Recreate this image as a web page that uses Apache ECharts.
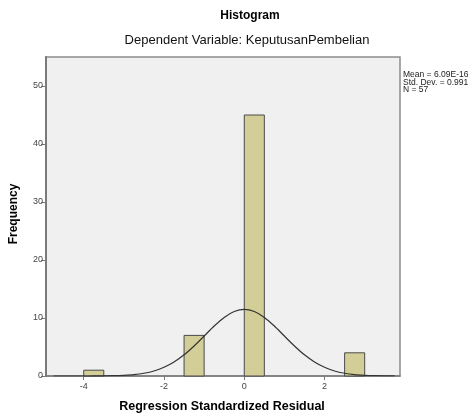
<!DOCTYPE html>
<html>
<head>
<meta charset="utf-8">
<script src="https://cdn.jsdelivr.net/npm/echarts@6/dist/echarts.min.js"></script>
<style>
html,body{margin:0;padding:0;background:#fff;}
#main{width:474px;height:413px;}
</style>
</head>
<body>
<div id="main"></div>
<script>
// ---- data ----
const binStarts = [-4, -1.5, 0, 2.5];
const binWidth = 0.5;
const counts = [1, 7, 45, 4];
const curveX = [-4.75, -4.5, -4.25, -4, -3.75, -3.5, -3.25, -3, -2.75, -2.5, -2.25, -2, -1.75, -1.5, -1.25, -1, -0.75, -0.5, -0.25, 0,
                0.25, 0.5, 0.75, 1, 1.25, 1.5, 1.75, 2, 2.25, 2.5, 2.75, 3, 3.25, 3.5, 3.75];
const curveY = [0, 0, 0, 0, 0.01, 0.02, 0.05, 0.12, 0.24, 0.48, 0.87, 1.50, 2.41, 3.65, 5.18, 6.89, 8.61, 10.10, 11.11, 11.47,
                11.11, 10.10, 8.61, 6.89, 5.18, 3.65, 2.41, 1.50, 0.87, 0.48, 0.24, 0.12, 0.05, 0.02, 0.01];
const xTicks = [-4, -2, 0, 2];
const yTicks = [0, 10, 20, 30, 40, 50];
const titleText = 'Histogram';
const subtitleText = 'Dependent Variable: KeputusanPembelian';
const xTitle = 'Regression Standardized Residual';
const yTitle = 'Frequency';
const statsLines = ['Mean = 6.09E-16', 'Std. Dev. = 0.991', 'N = 57'];

const barData = binStarts.map((s, i) => [s, s + binWidth, counts[i]]);
const lineData = curveX.map((x, i) => [x, curveY[i]]);

const chart = echarts.init(document.getElementById('main'), null, {renderer: 'canvas'});
const font = 'Arial, "Liberation Sans", sans-serif';

chart.setOption({
  animation: false,
  backgroundColor: '#ffffff',
  grid: {
    left: 46, top: 57, right: 74, bottom: 37,
    show: true, backgroundColor: '#f0f0f0', borderColor: '#8c8c8c', borderWidth: 1.5
  },
  xAxis: {
    type: 'value', min: -4.94, max: 3.88,
    axisLine: {show: true, onZero: false, lineStyle: {color: '#7a7a7a', width: 1.5}},
    axisTick: {show: true, customValues: xTicks, length: 4, lineStyle: {color: '#7a7a7a'}},
    axisLabel: {customValues: xTicks, color: '#444', fontSize: 9, fontFamily: font, margin: 6},
    splitLine: {show: false}
  },
  yAxis: {
    type: 'value', min: 0, max: 55,
    axisLine: {show: true, onZero: false, lineStyle: {color: '#7a7a7a', width: 2}},
    axisTick: {show: true, customValues: yTicks, length: 5, lineStyle: {color: '#7a7a7a'}},
    axisLabel: {customValues: yTicks, color: '#444', fontSize: 9, fontFamily: font, margin: 3},
    splitLine: {show: false}
  },
  graphic: [
    {type: 'text', x: 250, y: 10, style: {text: titleText, font: 'bold 12px ' + font, fill: '#000', align: 'center'}},
    {type: 'text', x: 247, y: 34, style: {text: subtitleText, font: '13px ' + font, fill: '#111', align: 'center'}},
    {type: 'text', x: 222, y: 400, style: {text: xTitle, font: 'bold 12.5px ' + font, fill: '#000', align: 'center'}},
    {type: 'text', x: 8, y: 214, rotation: Math.PI / 2, style: {text: yTitle, font: 'bold 12px ' + font, fill: '#000', align: 'center'}},
    {type: 'text', x: 403, y: 71, style: {text: statsLines.join('\n'), font: '8.5px ' + font, fill: '#222', lineHeight: 7.5}}
  ],
  series: [
    {
      type: 'custom',
      data: barData,
      encode: {x: [0, 1], y: 2},
      renderItem: function (params, api) {
        const p0 = api.coord([api.value(0), 0]);
        const p1 = api.coord([api.value(1), api.value(2)]);
        return {
          type: 'rect',
          shape: {x: p0[0], y: p1[1], width: p1[0] - p0[0], height: p0[1] - p1[1]},
          style: {fill: '#d3ce97', stroke: '#4a4a4a', lineWidth: 1}
        };
      }
    },
    {
      type: 'line',
      data: lineData,
      smooth: 0.3,
      showSymbol: false,
      symbol: 'none',
      lineStyle: {color: '#333', width: 1.2},
      z: 5
    }
  ]
});
</script>
</body>
</html>
